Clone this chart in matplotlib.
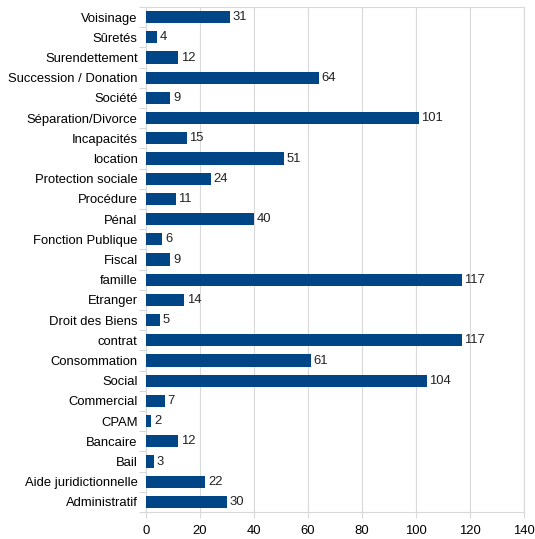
import matplotlib.pyplot as plt
import numpy as np

plt.rcParams["font.family"] = ["Liberation Sans", "DejaVu Sans"]

categories = [
    "Voisinage", "Sûretés", "Surendettement", "Succession / Donation", "Société",
    "Séparation/Divorce", "Incapacités", "location", "Protection sociale",
    "Procédure", "Pénal", "Fonction Publique", "Fiscal", "famille", "Etranger",
    "Droit des Biens", "contrat", "Consommation", "Social", "Commercial", "CPAM",
    "Bancaire", "Bail", "Aide juridictionnelle", "Administratif",
]
values = [31, 4, 12, 64, 9, 101, 15, 51, 24, 11, 40, 6, 9, 117, 14, 5, 117,
          61, 104, 7, 2, 12, 3, 22, 30]
xticks = [0, 20, 40, 60, 80, 100, 120, 140]

bar_color = "#004586"
grid_color = "#d9d9d9"
fs = 9.4

fig = plt.figure(figsize=(5.35, 5.39), dpi=100)
ax = fig.add_axes([0.273, 0.05, 0.706, 0.937])

n = len(categories)
y = np.arange(n)[::-1]
ax.barh(y, values, height=0.6, color=bar_color, zorder=3)
for yi, v in zip(y, values):
    ax.text(v + 1, yi, str(v), va="center", ha="left", fontsize=fs, color="#222222")

ax.set_xlim(0, 140)
ax.set_ylim(-0.5, n - 0.5)
ax.set_xticks(xticks)
ax.set_yticks(y)
ax.set_yticklabels(categories, fontsize=fs)
ax.set_yticks(np.arange(-0.5, n, 1), minor=True)
ax.tick_params(axis="y", which="major", length=0, pad=6)
ax.tick_params(axis="y", which="minor", length=5, color=grid_color, width=0.8)
ax.tick_params(axis="x", length=4, color=grid_color, labelsize=fs, pad=5)

ax.grid(axis="x", color=grid_color, linewidth=0.8, zorder=0)
for side in ["top", "right", "left", "bottom"]:
    ax.spines[side].set_color(grid_color)
    ax.spines[side].set_linewidth(0.8)

fig.savefig("out.png", dpi=100)
